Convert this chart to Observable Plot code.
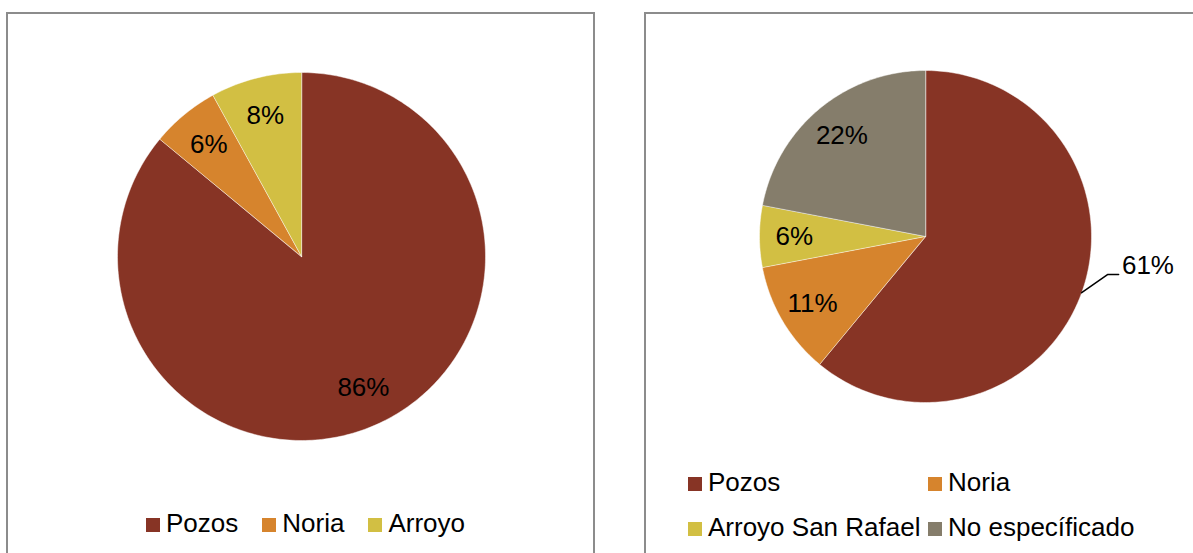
<!DOCTYPE html>
<html>
<head>
<meta charset="utf-8">
<script src="https://cdn.jsdelivr.net/npm/d3@7"></script>
<script src="https://cdn.jsdelivr.net/npm/@observablehq/plot@0.6"></script>
<style>
  html, body { margin: 0; padding: 0; background: #fff; }
  #page { position: relative; width: 1193px; height: 553px; overflow: hidden; font-family: "Liberation Sans", Arial, sans-serif; }
  .box { position: absolute; border: 2px solid #8c8c8c; box-sizing: border-box; }
  .chart { position: absolute; top: 0; }
  .legend { position: absolute; display: flex; align-items: center; font-size: 26px; line-height: 30px; color: #000; white-space: nowrap; }
  .item { display: flex; align-items: center; }
  .sw { width: 14px; height: 14px; margin-right: 6px; margin-top: 3px; }
</style>
</head>
<body>
<div id="page">
  <div class="box" style="left:6px; top:12px; width:589px; height:600px;"></div>
  <div class="box" style="left:644px; top:12px; width:600px; height:600px;"></div>
</div>
<script>
// ---- Data ----
const leftCategories = ["Pozos", "Noria", "Arroyo"];
const leftValues = [86, 6, 8];
const rightCategories = ["Pozos", "Noria", "Arroyo San Rafael", "No específicado"];
const rightValues = [61, 11, 6, 22];
const seriesColors = ["#873425", "#D6842D", "#D2BF43", "#857D6B"];
const rightOutsideLabel = "Pozos";

const FONT = "Liberation Sans, Arial, sans-serif";
const polar = (a, r) => [r * Math.sin(a), r * Math.cos(a)];

function pieData(cats, vals) {
  const arcs = d3.pie().sort(null).value(d => d)(vals);
  const pts = [];
  const labels = [];
  arcs.forEach((arc, i) => {
    const name = cats[i];
    pts.push({name, x: 0, y: 0});
    const n = Math.max(2, Math.ceil((arc.endAngle - arc.startAngle) / (Math.PI / 180)));
    for (let k = 0; k <= n; k++) {
      const a = arc.startAngle + (arc.endAngle - arc.startAngle) * k / n;
      const [x, y] = polar(a, 1);
      pts.push({name, x, y});
    }
    const mid = (arc.startAngle + arc.endAngle) / 2;
    labels.push({name, mid, text: vals[i] + "%"});
  });
  return {pts, labels};
}

function makePie(cats, vals, xRange, yRange, width, outside) {
  const {pts, labels} = pieData(cats, vals);
  const inside = labels.filter(d => d.name !== outside).map(d => {
    const [x, y] = polar(d.mid, 0.79);
    return {x, y, text: d.text};
  });
  const marks = [
    Plot.line(pts, {x: "x", y: "y", z: "name", fill: "name", stroke: "#ffffff", strokeWidth: 0.8, strokeOpacity: 0.6, curve: "linear-closed"}),
    Plot.text(inside, {x: "x", y: "y", text: "text", fontSize: 26, fontFamily: FONT, fill: "#000"})
  ];
  const out = labels.find(d => d.name === outside);
  if (out) {
    const [x0, y0] = polar(out.mid, 1.0);
    const [x1, y1] = polar(out.mid - 8 * Math.PI / 180, 1.12);
    const x2 = x1 + 0.067;
    const leader = [{x: x0, y: y0}, {x: x1, y: y1}, {x: x2, y: y1}];
    marks.push(Plot.line(leader, {x: "x", y: "y", stroke: "#000", strokeWidth: 1.5}));
    marks.push(Plot.text([{x: x2 + 0.02, y: y1, text: out.text}], {x: "x", y: "y", text: "text", textAnchor: "start", dy: -9, fontSize: 26, fontFamily: FONT, fill: "#000"}));
  }
  return Plot.plot({
    width, height: 553, margin: 0,
    style: {background: "transparent", overflow: "visible", fontFamily: FONT},
    x: {domain: [-1, 1], range: xRange, axis: null},
    y: {domain: [-1, 1], range: yRange, axis: null},
    color: {domain: cats, range: seriesColors.slice(0, cats.length)},
    marks
  });
}

const page = document.getElementById("page");

const left = makePie(leftCategories, leftValues, [117, 485], [440, 72], 600, null);
left.classList.add("chart");
left.style.left = "0px";
page.appendChild(left);

const right = makePie(rightCategories, rightValues, [759 - 600, 1091 - 600], [402, 70], 593, rightOutsideLabel);
right.classList.add("chart");
right.style.left = "600px";
page.appendChild(right);

function legendItem(name, color, widthPx) {
  const it = document.createElement("div");
  it.className = "item";
  if (widthPx) it.style.width = widthPx + "px";
  const sw = document.createElement("div");
  sw.className = "sw";
  sw.style.background = color;
  const t = document.createElement("span");
  t.textContent = name;
  it.appendChild(sw);
  it.appendChild(t);
  return it;
}

// Left legend
const lg = document.createElement("div");
lg.className = "legend";
lg.style.left = "146px";
lg.style.top = "508px";
lg.style.gap = "24px";
leftCategories.forEach((c, i) => lg.appendChild(legendItem(c, seriesColors[i])));
page.appendChild(lg);

// Right legend (2 columns)
[[0, 1], [2, 3]].forEach((row, r) => {
  const rg = document.createElement("div");
  rg.className = "legend";
  rg.style.left = "688px";
  rg.style.top = (467 + r * 45) + "px";
  row.forEach(i => rg.appendChild(legendItem(rightCategories[i], seriesColors[i], 240)));
  page.appendChild(rg);
});
</script>
</body>
</html>
